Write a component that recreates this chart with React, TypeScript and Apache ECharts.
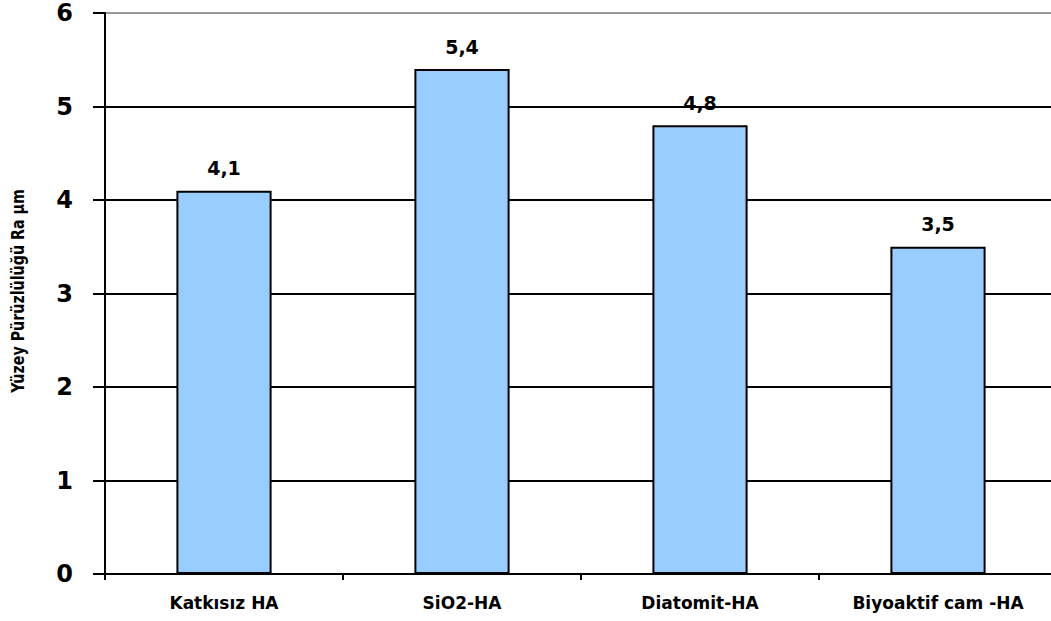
import React, { useEffect, useRef } from "react";
import * as echarts from "echarts";

const categories = ["Katkısız HA", "SiO2-HA", "Diatomit-HA", "Biyoaktif cam -HA"];
const roughness = [4.1, 5.4, 4.8, 3.5];
const yAxisTitle = "Yüzey Pürüzlülüğü Ra µm";

export default function App() {
  const ref = useRef<HTMLDivElement>(null);

  useEffect(() => {
    if (!ref.current) return;
    const chart = echarts.init(ref.current, undefined, { renderer: "svg" });
    chart.setOption({
      animation: false,
      backgroundColor: "#ffffff",
      grid: { left: 105, right: -6, top: 13, bottom: 47, outerBoundsMode: "none" },
      // Narrow, condensed vertical axis title
      graphic: [
        {
          type: "text",
          x: 18,
          y: 291,
          rotation: Math.PI / 2,
          scaleX: 0.88,
          style: {
            text: yAxisTitle,
            fontFamily: "DejaVu Sans Condensed",
            fontWeight: "bold",
            fontSize: 18,
            fill: "#000",
            textAlign: "center",
            textVerticalAlign: "middle",
          },
        },
      ],
      xAxis: {
        type: "category",
        data: categories,
        axisLine: { lineStyle: { color: "#000", width: 2 } },
        axisTick: { show: true, length: 6, lineStyle: { color: "#000", width: 2 } },
        axisLabel: {
          margin: 20,
          color: "#000",
          fontFamily: "DejaVu Sans",
          fontWeight: "bold",
          fontSize: 17,
        },
      },
      yAxis: {
        type: "value",
        min: 0,
        max: 6,
        interval: 1,
        axisLine: { show: true, lineStyle: { color: "#000", width: 2 } },
        axisTick: { show: true, inside: false, length: 12, lineStyle: { color: "#000", width: 2 } },
        axisLabel: {
          margin: 32,
          color: "#000",
          fontFamily: "DejaVu Sans",
          fontWeight: "bold",
          fontSize: 24,
        },
        splitLine: {
          show: true,
          lineStyle: {
            color: ["#000", "#000", "#000", "#000", "#000", "#000", "#999"],
            width: 2,
          },
        },
      },
      series: [
        {
          type: "bar",
          data: roughness,
          barWidth: "40%",
          itemStyle: { color: "#99CCFF", borderColor: "#000", borderWidth: 2 },
          label: {
            show: true,
            position: "top",
            distance: 13,
            color: "#000",
            fontFamily: "DejaVu Sans",
            fontWeight: "bold",
            fontSize: 19,
            formatter: (p: any) => String(p.value).replace(".", ","),
          },
        },
      ],
    });
    return () => chart.dispose();
  }, []);

  return <div ref={ref} style={{ width: 1051, height: 621, position: "absolute", left: 0, top: 0 }} />;
}
